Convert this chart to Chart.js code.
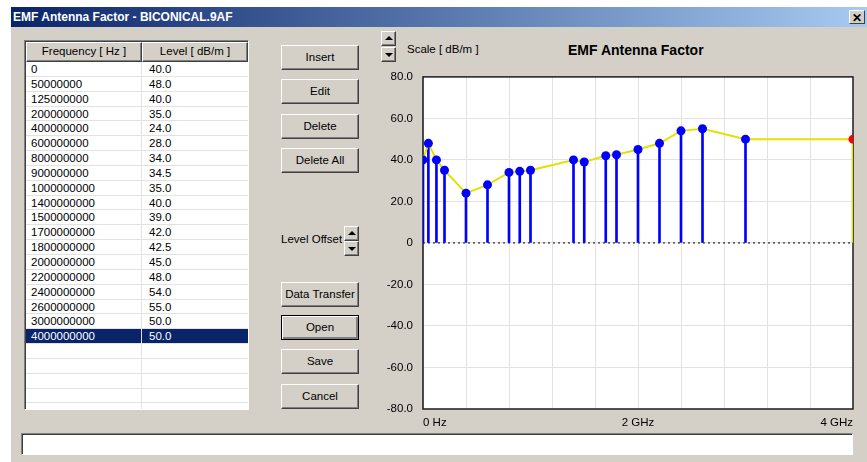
<!DOCTYPE html>
<html>
<head>
<meta charset="utf-8">
<title>EMF Antenna Factor</title>
<script src="https://cdn.jsdelivr.net/npm/chart.js@4.4.1/dist/chart.umd.min.js"></script>
<style>
    body { margin: 0; width: 867px; height: 462px; background: #fff; position: relative; overflow: hidden;
           font-family: "Liberation Sans", Arial, sans-serif; font-size: 11.5px; color: #000; }
    .abs { position: absolute; }
    #ventana { left: 11px; top: 7px; width: 856px; height: 455px; background: #d4d0c8; }
    #barraTitulo { left: 11px; top: 7px; width: 856px; height: 20px;
                   background: linear-gradient(to right, #0a246a, #a6caf0); }
    #textoTitulo { left: 13px; top: 10px; color: #fff; font-weight: bold; font-size: 12px; white-space: nowrap; }
    #cerrar { left: 849px; top: 10px; width: 16px; height: 14px; background: #d4d0c8; font-weight: bold;
              font-size: 12px; line-height: 14px; text-align: center;
              border: 1px solid; border-color: #fff #404040 #404040 #fff; box-sizing: border-box; }
    .boton { width: 78px; height: 25px; background: #d4d0c8; box-sizing: border-box; text-align: center;
             line-height: 22px; border: 1px solid; border-color: #fff #404040 #404040 #fff;
             box-shadow: inset -1px -1px #808080; white-space: nowrap; }
    .boton.defecto { border: 1px solid #000; box-shadow: inset 1px 1px #fff, inset -2px -2px #808080; }
    .giro { width: 15px; height: 15px; background: #d4d0c8; box-sizing: border-box;
            border: 1px solid; border-color: #fff #404040 #404040 #fff; box-shadow: inset -1px -1px #808080; }
    .giro::after { content: ""; position: absolute; left: 3px; border-left: 4px solid transparent;
                   border-right: 4px solid transparent; }
    .giro.arriba::after { top: 4px; border-bottom: 4px solid #000; }
    .giro.abajo::after { top: 5px; border-top: 4px solid #000; }
    #tabla { left: 24px; top: 40px; width: 225px; height: 370px; background: #fff; box-sizing: border-box;
             border: 1px solid; border-color: #808080 #fff #fff #808080; box-shadow: inset 1px 1px #404040;
             overflow: hidden; padding: 1px 0 0 1px; }
    .fila { display: flex; height: 14.85px; box-sizing: border-box; }
    .celda { box-sizing: border-box; border-bottom: 1px solid #e2e2e2; padding-left: 5px; line-height: 14px;
             white-space: nowrap; overflow: hidden; }
    .c1 { width: 116px; border-right: 1px solid #e2e2e2; }
    .c2 { width: 106px; padding-left: 7px; }
    .cabecera { height: 20px; }
    .cabecera .celda { background: #d4d0c8; text-align: center; padding-left: 0; line-height: 17px;
                       border: 1px solid; border-color: #fff #404040 #404040 #fff; box-shadow: inset -1px -1px #808080; }
    .seleccionada .celda { background: #0a246a; color: #fff; }
    #estado { left: 21px; top: 433px; width: 832px; height: 22px; background: #fff; box-sizing: border-box;
              border: 1px solid; border-color: #808080 #fff #fff #808080; box-shadow: inset 1px 1px #404040; }
    #tituloGrafico { left: 568px; top: 42px; font-weight: bold; font-size: 14px; white-space: nowrap; }
    #escala { left: 407px; top: 43px; white-space: nowrap; }
    #offset { left: 281px; top: 233px; white-space: nowrap; }
    #graficoFactor { left: 370px; top: 60px; }
</style>
</head>
<body>
<div id="ventana" class="abs"></div>
<div id="barraTitulo" class="abs"></div>
<div id="textoTitulo" class="abs">EMF Antenna Factor - BICONICAL.9AF</div>
<div id="cerrar" class="abs">✕</div>

<div id="tabla" class="abs"></div>

<div class="abs boton" style="left:281px; top:45px;">Insert</div>
<div class="abs boton" style="left:281px; top:79px;">Edit</div>
<div class="abs boton" style="left:281px; top:114px;">Delete</div>
<div class="abs boton" style="left:281px; top:148px;">Delete All</div>
<div id="offset" class="abs">Level Offset</div>
<div class="abs giro arriba" style="left:344px; top:226px;"></div>
<div class="abs giro abajo" style="left:344px; top:241px;"></div>
<div class="abs boton" style="left:281px; top:282px;">Data Transfer</div>
<div class="abs boton defecto" style="left:281px; top:315px;">Open</div>
<div class="abs boton" style="left:281px; top:349px;">Save</div>
<div class="abs boton" style="left:281px; top:384px;">Cancel</div>

<div class="abs giro arriba" style="left:381px; top:31px;"></div>
<div class="abs giro abajo" style="left:381px; top:47px;"></div>
<div id="escala" class="abs">Scale [ dB/m ]</div>
<div id="tituloGrafico" class="abs">EMF Antenna Factor</div>

<canvas id="graficoFactor" class="abs" width="497" height="380"></canvas>

<div id="estado" class="abs"></div>

<script>
// Datos de la tabla (frecuencia en Hz, nivel en dB/m)
const frecuencias = [0, 50000000, 125000000, 200000000, 400000000, 600000000, 800000000, 900000000,
    1000000000, 1400000000, 1500000000, 1700000000, 1800000000, 2000000000, 2200000000, 2400000000,
    2600000000, 3000000000, 4000000000];
const niveles = [40.0, 48.0, 40.0, 35.0, 24.0, 28.0, 34.0, 34.5, 35.0, 40.0, 39.0, 42.0, 42.5, 45.0,
    48.0, 54.0, 55.0, 50.0, 50.0];
const filaSeleccionada = 18;
const filasVacias = 5;

// Escalas
const frecuenciaMin = 0;
const frecuenciaMax = 4000000000;
const pasoFrecuencia = 400000000;
const etiquetasFrecuencia = { 0: '0 Hz', 2000000000: '2 GHz', 4000000000: '4 GHz' };
const nivelMin = -80;
const nivelMax = 80;
const pasoNivel = 20;

// Llenar la tabla de frecuencias
function llenarTabla() {
    const tabla = document.getElementById('tabla');
    let html = '<div class="fila cabecera"><div class="celda c1">Frequency [ Hz ]</div>' +
               '<div class="celda c2">Level [ dB/m ]</div></div>';
    frecuencias.forEach((f, i) => {
        const clase = i === filaSeleccionada ? 'fila seleccionada' : 'fila';
        html += `<div class="${clase}"><div class="celda c1">${f}</div><div class="celda c2">${niveles[i].toFixed(1)}</div></div>`;
    });
    for (let i = 0; i < filasVacias; i++) {
        html += '<div class="fila"><div class="celda c1"></div><div class="celda c2"></div></div>';
    }
    tabla.innerHTML = html;
}

// Fondo blanco y marco del área de trazado
const marcoGrafico = {
    id: 'marcoGrafico',
    beforeDraw(chart) {
        const { ctx, chartArea: a } = chart;
        ctx.save();
        ctx.fillStyle = '#fff';
        ctx.fillRect(a.left, a.top, a.right - a.left, a.bottom - a.top);
        ctx.restore();
    },
    beforeDatasetsDraw(chart) {
        const { ctx, chartArea: a } = chart;
        ctx.save();
        ctx.strokeStyle = '#1a1a1a';
        ctx.lineWidth = 1.5;
        ctx.strokeRect(a.left, a.top, a.right - a.left, a.bottom - a.top);
        ctx.restore();
    }
};

// Crear el gráfico del factor de antena
function crearGrafico() {
    const ctx = document.getElementById('graficoFactor').getContext('2d');
    const puntos = frecuencias.map((f, i) => ({ x: f, y: niveles[i] }));
    const coloresPuntos = frecuencias.map((f, i) => i === filaSeleccionada ? '#ff0000' : '#0000ff');
    const coloresBarras = frecuencias.map((f, i) => i === filaSeleccionada ? '#e2e200' : '#0000ff');

    Chart.defaults.font.family = '"Liberation Sans", Arial, sans-serif';
    Chart.defaults.font.size = 11.5;
    Chart.defaults.color = '#000';

    new Chart(ctx, {
        type: 'line',
        data: {
            datasets: [{
                type: 'line',
                label: 'Level [ dB/m ]',
                data: puntos,
                borderColor: '#e2e200',
                borderWidth: 2,
                pointRadius: 4.5,
                pointHoverRadius: 4.5,
                pointBackgroundColor: coloresPuntos,
                pointBorderColor: coloresPuntos,
                pointBorderWidth: 0,
                tension: 0,
                clip: 0,
                order: 0
            }, {
                type: 'bar',
                label: 'Stems',
                data: puntos,
                backgroundColor: coloresBarras,
                borderWidth: 0,
                barThickness: 2,
                order: 1
            }, {
                type: 'line',
                label: 'Zero',
                data: [{ x: frecuenciaMin, y: 0 }, { x: frecuenciaMax, y: 0 }],
                borderColor: '#000',
                borderWidth: 1,
                borderDash: [2, 3],
                pointRadius: 0,
                clip: 0,
                order: 2
            }]
        },
        options: {
            responsive: false,
            animation: false,
            layout: { padding: { top: 13, right: 14, bottom: 0, left: 0 } },
            plugins: {
                legend: { display: false },
                tooltip: { enabled: false },
                title: { display: false }
            },
            scales: {
                x: {
                    type: 'linear',
                    min: frecuenciaMin,
                    max: frecuenciaMax,
                    offset: false,
                    grid: { color: '#e2e2e2', lineWidth: 1, drawTicks: false, offset: false },
                    border: { display: false },
                    ticks: {
                        stepSize: pasoFrecuencia,
                        autoSkip: false,
                        maxRotation: 0,
                        align: 'inner',
                        padding: 7,
                        callback: v => etiquetasFrecuencia[v] || ''
                    },
                    afterFit: escala => { escala.height = 31; }
                },
                y: {
                    min: nivelMin,
                    max: nivelMax,
                    grid: { color: '#e2e2e2', lineWidth: 1, drawTicks: false },
                    border: { display: false },
                    ticks: {
                        stepSize: pasoNivel,
                        padding: 10,
                        callback: v => v === 0 ? '0' : v.toFixed(1)
                    },
                    afterFit: escala => { escala.width = 53; }
                }
            }
        },
        plugins: [marcoGrafico]
    });
}

llenarTabla();
crearGrafico();
</script>
</body>
</html>
